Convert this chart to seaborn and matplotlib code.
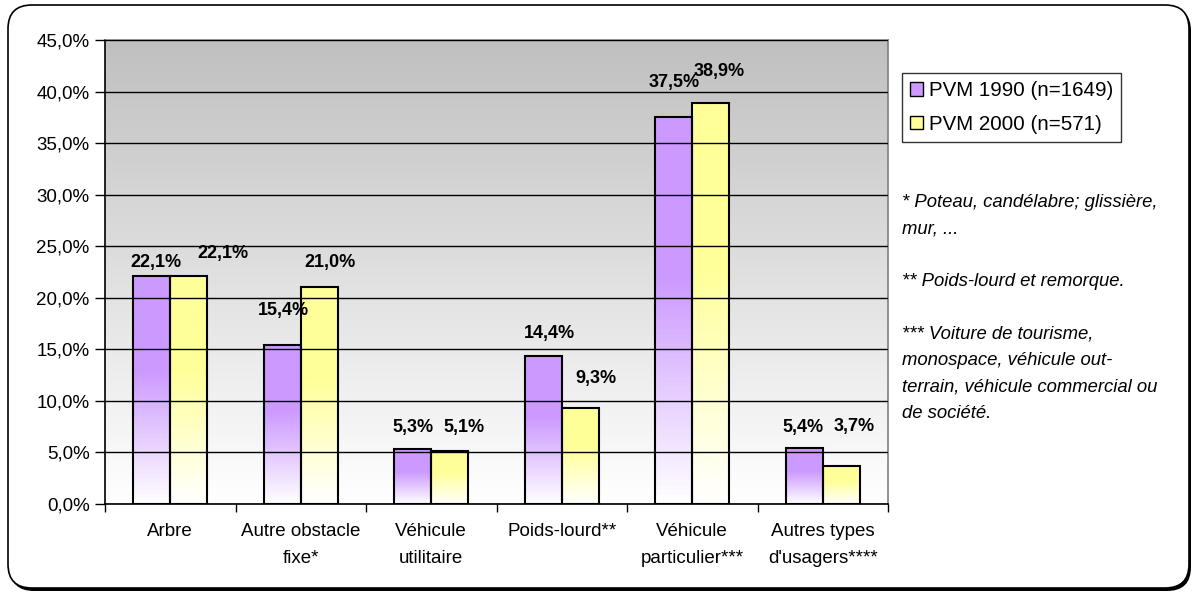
import matplotlib
matplotlib.use('Agg')
import matplotlib.pyplot as plt
import numpy as np
import pandas as pd
import seaborn as sns
from matplotlib.patches import FancyBboxPatch, Patch
from matplotlib.colors import to_rgb

categories = ["Arbre", "Autre obstacle\nfixe*", "Véhicule\nutilitaire",
              "Poids-lourd**", "Véhicule\nparticulier***", "Autres types\nd'usagers****"]
series = ["PVM 1990 (n=1649)", "PVM 2000 (n=571)"]
pvm_1990 = [22.1, 15.4, 5.3, 14.4, 37.5, 5.4]
pvm_2000 = [22.1, 21.0, 5.1, 9.3, 38.9, 3.7]
yticks = [0, 5, 10, 15, 20, 25, 30, 35, 40, 45]
footnotes = ("* Poteau, candélabre; glissière,\nmur, ...\n\n"
             "** Poids-lourd et remorque.\n\n"
             "*** Voiture de tourisme,\nmonospace, véhicule out-\n"
             "terrain, véhicule commercial ou\nde société.")

colors = ["#cc99ff", "#ffff99"]
# label offsets in pixels (dx, dy) from bar top centre
off_1990 = [(4, 14), (1, 35), (0, 22), (6, 22), (1, 35), (-1, 21)]
off_2000 = [(34, 23), (11, 25), (14, 24), (16, 30), (8, 31), (13, 39)]

sns.set_theme(style="white")
plt.rcParams['font.family'] = ['Liberation Sans', 'DejaVu Sans']
plt.rcParams['text.color'] = 'black'
plt.rcParams['xtick.color'] = 'black'
plt.rcParams['ytick.color'] = 'black'

df = pd.DataFrame({
    "cat": categories * 2,
    "val": pvm_1990 + pvm_2000,
    "serie": [series[0]] * 6 + [series[1]] * 6,
})

fig = plt.figure(figsize=(11.94, 5.93), dpi=100)
ax = fig.add_axes([105 / 1194, 1 - 504 / 593, 783 / 1194, 464 / 593])

sns.barplot(data=df, x="cat", y="val", hue="serie", palette=colors, width=0.57,
            edgecolor="black", linewidth=1.5, legend=False, ax=ax, zorder=3)

# background gradient grey -> white
bg = np.linspace(1, 0, 256).reshape(-1, 1)
grey = np.array(to_rgb("#c0c0c0"))
img = np.ones((256, 1, 3)) * (1 - bg[..., None]) + grey * bg[..., None]
ax.imshow(img, extent=[-0.5, 5.5, 0, 45], aspect="auto", zorder=0, origin="upper")

# gradient fill on bars
for cont, col in zip(ax.containers, colors):
    c = np.array(to_rgb(col))
    for bar in cont:
        x0, y0 = bar.get_x(), bar.get_y()
        w, h = bar.get_width(), bar.get_height()
        t = np.clip(np.linspace(1, 0, 128) * 1.7, 0, 1).reshape(-1, 1, 1)
        g = np.ones((128, 1, 3)) * (1 - t) + c * t
        im = ax.imshow(g, extent=[x0, x0 + w, y0, y0 + h], aspect="auto",
                       zorder=2.5, origin="upper")
        im.set_clip_path(bar)
        bar.set_facecolor("none")

ax.set_xlim(-0.5, 5.5)
ax.set_ylim(0, 45)

# labels
for cont, vals, offs in zip(ax.containers, [pvm_1990, pvm_2000], [off_1990, off_2000]):
    for bar, v, (dx, dy) in zip(cont, vals, offs):
        ax.annotate(f"{v:.1f}%".replace(".", ","),
                    (bar.get_x() + bar.get_width() / 2, bar.get_height()),
                    xytext=(dx, dy), textcoords="offset pixels",
                    ha="center", va="center", fontsize=13, fontweight="bold",
                    color="black", zorder=5)

ax.set_yticks(yticks)
ax.set_yticklabels([f"{v:.1f}%".replace(".", ",") for v in yticks], fontsize=13.5)
ax.yaxis.grid(True, color="black", linewidth=1)
ax.set_axisbelow(False)
for line in ax.get_ygridlines():
    line.set_zorder(1)
ax.tick_params(axis="y", length=7, width=1, direction="out", left=True, pad=4)
ax.tick_params(axis="x", length=0, pad=14)
ax.set_xticks(range(6))
ax.set_xticklabels(categories, fontsize=13.5, linespacing=1.75)
ax.set_xticks(np.arange(-0.5, 6, 1), minor=True)
ax.tick_params(axis="x", which="minor", length=6, width=1, direction="out", bottom=True)
ax.set_xlabel("")
ax.set_ylabel("")

for s in ["left", "bottom"]:
    ax.spines[s].set_color("black")
    ax.spines[s].set_linewidth(1.2)
for s in ["top", "right"]:
    ax.spines[s].set_color("#808080")
    ax.spines[s].set_linewidth(1.2)

handles = [Patch(facecolor=c, edgecolor="black", linewidth=1) for c in colors]
leg = fig.legend(handles, series, loc="upper left", bbox_to_anchor=(902 / 1194, 1 - 73 / 593),
                 fontsize=14.8, frameon=True, fancybox=False, edgecolor="black",
                 handlelength=0.6, handleheight=0.6, handletextpad=0.3,
                 borderpad=0.4, labelspacing=0.7, borderaxespad=0)
leg.get_frame().set_linewidth(1)

fig.text(902 / 1194, 1 - 194 / 593, footnotes, fontsize=13.3, style="italic",
         va="top", ha="left", linespacing=1.72)

# frame with a slight shadow at bottom-right
shadow = FancyBboxPatch((10 / 1194, 2 / 593), 1181 / 1194, 584 / 593,
                        boxstyle="round,pad=0,rounding_size=0.02",
                        transform=fig.transFigure, facecolor="black", edgecolor="none",
                        mutation_aspect=1194 / 593, zorder=-2)
border = FancyBboxPatch((8 / 1194, 5 / 593), 1181 / 1194, 583 / 593,
                        boxstyle="round,pad=0,rounding_size=0.02",
                        transform=fig.transFigure, facecolor="white", edgecolor="black",
                        linewidth=1.2, mutation_aspect=1194 / 593, zorder=-1)
fig.patches.append(shadow)
fig.patches.append(border)

fig.savefig("out.png", dpi=100)
